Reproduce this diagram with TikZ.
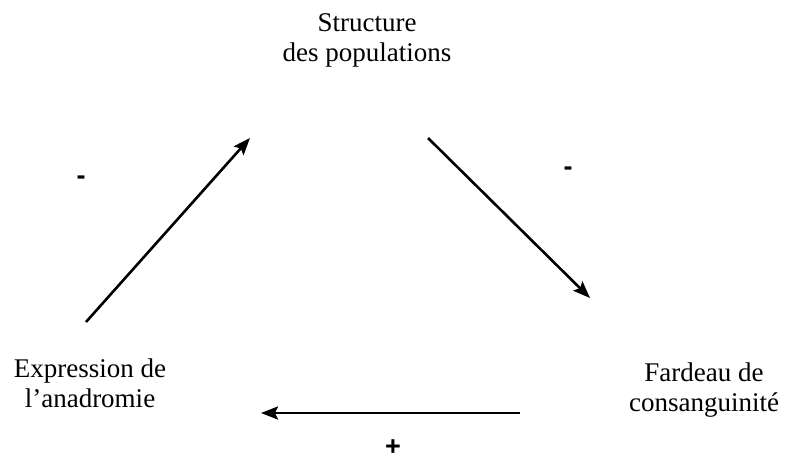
\documentclass[tikz,border=0pt]{standalone}
\usepackage{fontspec}
\setmainfont{Liberation Serif}
\newfontfamily\signfont{Liberation Sans}
\usetikzlibrary{arrows.meta}

\begin{document}
\begin{tikzpicture}[x=1pt, y=-1pt, >={Stealth[length=17pt,width=13pt,inset=3pt]}]
\tikzset{label/.style={align=center, inner sep=0pt, font=\fontsize{27}{30}\selectfont}, sign/.style={inner sep=0pt, font=\signfont\bfseries\fontsize{27}{29}\selectfont}, link/.style={->, line width=2.6pt, black}}
\useasboundingbox (0,0) rectangle (788,464);
\node[label] (structure) at (367,40) {Structure\\des populations};
\node[label] (anadromie) at (90,383) {Expression de\\l’anadromie};
\node[label] (fardeau) at (704,390) {Fardeau de\\consanguinité};
\node[sign] (moinsA) at (81,180) {-};
\node[sign] (moinsB) at (568,171) {-};
\node[sign] (plus) at (393,448) {+};
\coordinate (a1) at (86,322); \coordinate (a2) at (250,138);
\coordinate (b1) at (428,138); \coordinate (b2) at (590,298);
\coordinate (c1) at (520,413); \coordinate (c2) at (261,413);
\draw[link] (a1) -- (a2); \draw[link] (b1) -- (b2); \draw[link] (c1) -- (c2);
\end{tikzpicture}
\end{document}
